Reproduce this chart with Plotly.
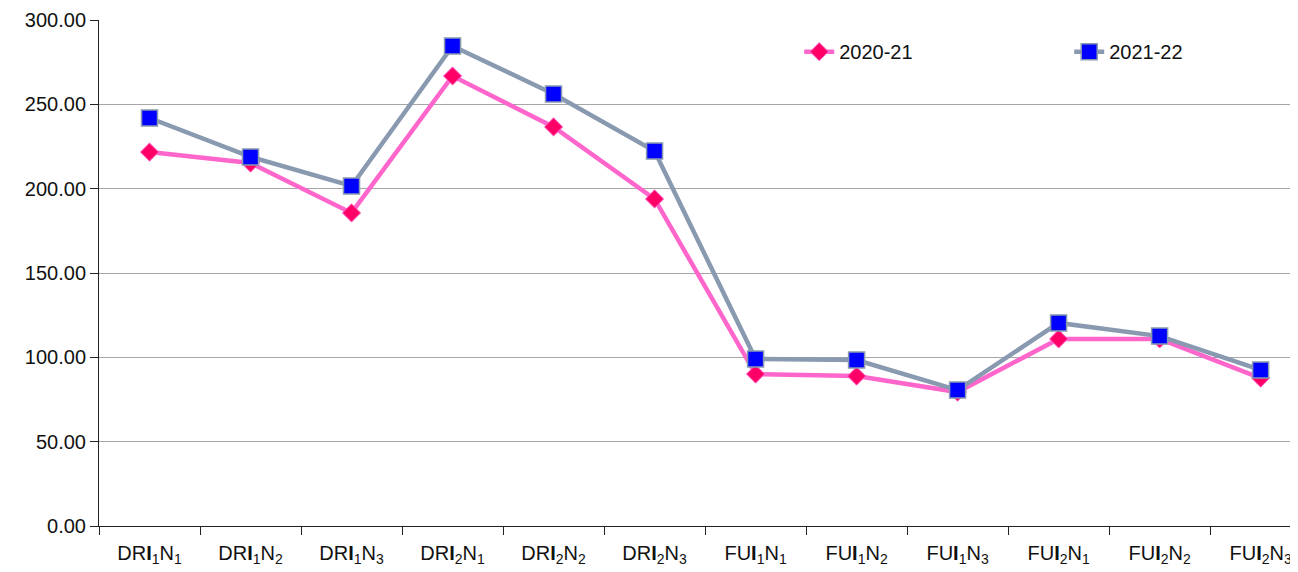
import plotly.graph_objects as go

categories = ["DR<b>I</b><sub>1</sub>N<sub>1</sub>", "DR<b>I</b><sub>1</sub>N<sub>2</sub>", "DR<b>I</b><sub>1</sub>N<sub>3</sub>",
              "DR<b>I</b><sub>2</sub>N<sub>1</sub>", "DR<b>I</b><sub>2</sub>N<sub>2</sub>", "DR<b>I</b><sub>2</sub>N<sub>3</sub>",
              "FU<b>I</b><sub>1</sub>N<sub>1</sub>", "FU<b>I</b><sub>1</sub>N<sub>2</sub>", "FU<b>I</b><sub>1</sub>N<sub>3</sub>",
              "FU<b>I</b><sub>2</sub>N<sub>1</sub>", "FU<b>I</b><sub>2</sub>N<sub>2</sub>", "FU<b>I</b><sub>2</sub>N<sub>3</sub>"]
s2020_21 = [221.7, 215.2, 185.6, 266.8, 236.6, 193.9, 90.1, 88.9, 79.4, 110.9, 110.9, 87.7]
s2021_22 = [241.9, 218.8, 201.6, 284.6, 256.1, 222.3, 99.0, 98.4, 80.6, 120.4, 112.6, 92.5]
y_ticks = [0, 50, 100, 150, 200, 250, 300]

fig = go.Figure()
fig.add_trace(go.Scatter(
    x=categories, y=s2020_21, name="2020-21", mode="lines+markers",
    line=dict(color="#FF66CC", width=4.5),
    marker=dict(symbol="diamond", size=14, color="#FF0066", line=dict(color="#FF66CC", width=1)),
))
fig.add_trace(go.Scatter(
    x=categories, y=s2021_22, name="2021-22", mode="lines+markers",
    line=dict(color="#8899B0", width=4.5),
    marker=dict(symbol="square", size=16, color="#0000FF", line=dict(color="#8899B0", width=1.5)),
))

font_family = "Liberation Sans, Arial, sans-serif"
fig.update_layout(
    width=1290, height=564,
    margin=dict(l=91, r=0, t=12, b=46, autoexpand=False),
    paper_bgcolor="white", plot_bgcolor="white",
    font=dict(family=font_family, size=20, color="#111111"),
    showlegend=True,
    legend=dict(orientation="h", x=0.584, y=0.976, xanchor="left", yanchor="top",
                font=dict(size=20), entrywidth=225, entrywidthmode="pixels",
                bgcolor="rgba(0,0,0,0)"),
    xaxis=dict(
        type="category", range=[-0.5, 11.37],
        showgrid=False, zeroline=False, showline=True, linecolor="#222222", linewidth=1,
        ticks="outside", ticklen=8, tickcolor="#222222", tickson="boundaries",
        ticklabelstandoff=9, tickfont=dict(size=20), automargin=False,
    ),
    yaxis=dict(
        range=[0, 300], tickmode="array", tickvals=y_ticks,
        ticktext=[f"{v:.2f}" for v in y_ticks],
        showgrid=True, gridcolor="#A6A6A6", gridwidth=1, zeroline=False,
        showline=True, linecolor="#222222", linewidth=1,
        ticks="outside", ticklen=8, tickcolor="#222222", tickfont=dict(size=20),
        automargin=False,
    ),
)

fig.write_html("out.html")
